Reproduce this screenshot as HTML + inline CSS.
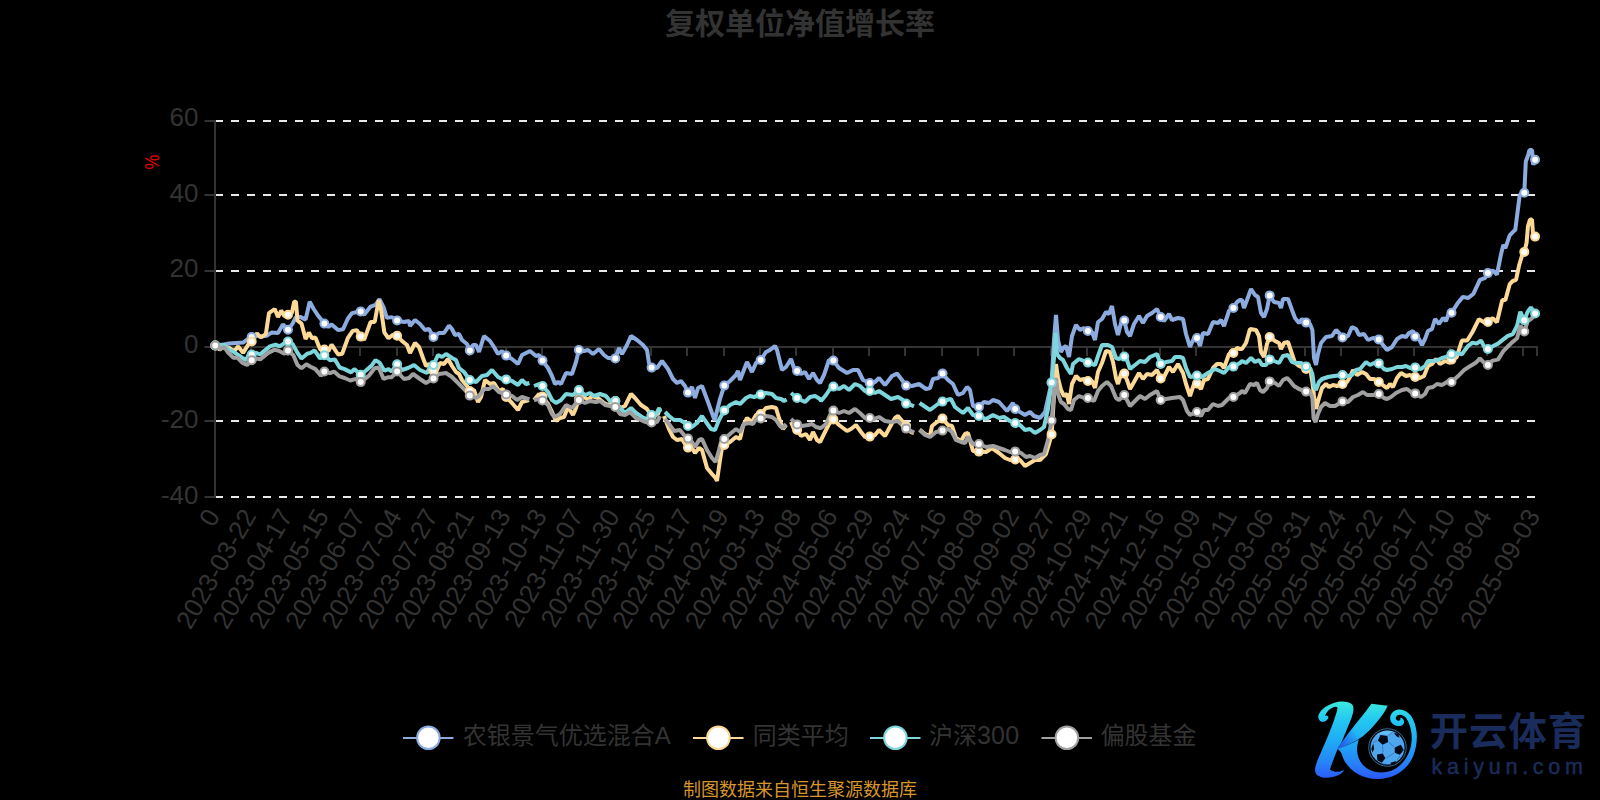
<!DOCTYPE html>
<html lang="zh-CN">
<head>
<meta charset="utf-8">
<title>复权单位净值增长率</title>
<style>
html,body{margin:0;padding:0;background:#000;}
body{width:1600px;height:800px;overflow:hidden;}
svg{display:block;}
svg text{font-family:"Liberation Sans","Noto Sans CJK SC",sans-serif;}
.ax{font-size:26px;fill:#333;}
.lg{font-size:24px;fill:#333;}
</style>
</head>
<body>
<svg width="1600" height="800" viewBox="0 0 1600 800">
<rect x="0" y="0" width="1600" height="800" fill="#000"/>
<text x="800" y="33.5" text-anchor="middle" font-size="30" font-weight="bold" fill="#333">复权单位净值增长率</text>
<g stroke="#e8e8e8" stroke-width="2" stroke-dasharray="8 8" fill="none">
<line x1="215.0" y1="121" x2="1537.0" y2="121"/>
<line x1="215.0" y1="195" x2="1537.0" y2="195"/>
<line x1="215.0" y1="271" x2="1537.0" y2="271"/>
<line x1="215.0" y1="421" x2="1537.0" y2="421"/>
<line x1="215.0" y1="497" x2="1537.0" y2="497"/>
</g>
<g stroke="#333" stroke-width="2" fill="none">
<line x1="215.0" y1="120" x2="215.0" y2="498"/>
<line x1="204.5" y1="121" x2="215.0" y2="121"/>
<line x1="204.5" y1="195" x2="215.0" y2="195"/>
<line x1="204.5" y1="271" x2="215.0" y2="271"/>
<line x1="204.5" y1="347" x2="215.0" y2="347"/>
<line x1="204.5" y1="421" x2="215.0" y2="421"/>
<line x1="204.5" y1="497" x2="215.0" y2="497"/>
<line x1="215.0" y1="347" x2="1538.0" y2="347"/>
<line x1="215.0" y1="347" x2="215.0" y2="356"/>
<line x1="251.0" y1="347" x2="251.0" y2="356"/>
<line x1="288.0" y1="347" x2="288.0" y2="356"/>
<line x1="324.0" y1="347" x2="324.0" y2="356"/>
<line x1="360.0" y1="347" x2="360.0" y2="356"/>
<line x1="397.0" y1="347" x2="397.0" y2="356"/>
<line x1="433.0" y1="347" x2="433.0" y2="356"/>
<line x1="469.0" y1="347" x2="469.0" y2="356"/>
<line x1="506.0" y1="347" x2="506.0" y2="356"/>
<line x1="542.0" y1="347" x2="542.0" y2="356"/>
<line x1="578.0" y1="347" x2="578.0" y2="356"/>
<line x1="615.0" y1="347" x2="615.0" y2="356"/>
<line x1="651.0" y1="347" x2="651.0" y2="356"/>
<line x1="687.0" y1="347" x2="687.0" y2="356"/>
<line x1="724.0" y1="347" x2="724.0" y2="356"/>
<line x1="760.0" y1="347" x2="760.0" y2="356"/>
<line x1="796.0" y1="347" x2="796.0" y2="356"/>
<line x1="833.0" y1="347" x2="833.0" y2="356"/>
<line x1="869.0" y1="347" x2="869.0" y2="356"/>
<line x1="905.0" y1="347" x2="905.0" y2="356"/>
<line x1="942.0" y1="347" x2="942.0" y2="356"/>
<line x1="978.0" y1="347" x2="978.0" y2="356"/>
<line x1="1014.0" y1="347" x2="1014.0" y2="356"/>
<line x1="1051.0" y1="347" x2="1051.0" y2="356"/>
<line x1="1087.0" y1="347" x2="1087.0" y2="356"/>
<line x1="1123.0" y1="347" x2="1123.0" y2="356"/>
<line x1="1160.0" y1="347" x2="1160.0" y2="356"/>
<line x1="1196.0" y1="347" x2="1196.0" y2="356"/>
<line x1="1232.0" y1="347" x2="1232.0" y2="356"/>
<line x1="1269.0" y1="347" x2="1269.0" y2="356"/>
<line x1="1305.0" y1="347" x2="1305.0" y2="356"/>
<line x1="1341.0" y1="347" x2="1341.0" y2="356"/>
<line x1="1378.0" y1="347" x2="1378.0" y2="356"/>
<line x1="1414.0" y1="347" x2="1414.0" y2="356"/>
<line x1="1450.0" y1="347" x2="1450.0" y2="356"/>
<line x1="1487.0" y1="347" x2="1487.0" y2="356"/>
<line x1="1523.0" y1="347" x2="1523.0" y2="356"/>
<line x1="1537.0" y1="347" x2="1537.0" y2="356"/>
</g>
<g class="ax" text-anchor="end">
<text x="198.5" y="126.4">60</text>
<text x="198.5" y="201.9">40</text>
<text x="198.5" y="277.4">20</text>
<text x="198.5" y="352.9">0</text>
<text x="198.5" y="428.4">-20</text>
<text x="198.5" y="504">-40</text>
</g>
<text transform="translate(159,162) rotate(-90) scale(0.84,1)" text-anchor="middle" font-size="20" fill="#e60000">%</text>
<g class="ax" text-anchor="end">
<text transform="translate(212.7,511) rotate(-60)" y="9.3">0</text>
<text transform="translate(249.0,511) rotate(-60)" y="9.3">2023-03-22</text>
<text transform="translate(285.4,511) rotate(-60)" y="9.3">2023-04-17</text>
<text transform="translate(321.7,511) rotate(-60)" y="9.3">2023-05-15</text>
<text transform="translate(358.0,511) rotate(-60)" y="9.3">2023-06-07</text>
<text transform="translate(394.4,511) rotate(-60)" y="9.3">2023-07-04</text>
<text transform="translate(430.7,511) rotate(-60)" y="9.3">2023-07-27</text>
<text transform="translate(467.0,511) rotate(-60)" y="9.3">2023-08-21</text>
<text transform="translate(503.4,511) rotate(-60)" y="9.3">2023-09-13</text>
<text transform="translate(539.7,511) rotate(-60)" y="9.3">2023-10-13</text>
<text transform="translate(576.0,511) rotate(-60)" y="9.3">2023-11-07</text>
<text transform="translate(612.4,511) rotate(-60)" y="9.3">2023-11-30</text>
<text transform="translate(648.7,511) rotate(-60)" y="9.3">2023-12-25</text>
<text transform="translate(685.0,511) rotate(-60)" y="9.3">2024-01-17</text>
<text transform="translate(721.4,511) rotate(-60)" y="9.3">2024-02-19</text>
<text transform="translate(757.7,511) rotate(-60)" y="9.3">2024-03-13</text>
<text transform="translate(794.0,511) rotate(-60)" y="9.3">2024-04-08</text>
<text transform="translate(830.4,511) rotate(-60)" y="9.3">2024-05-06</text>
<text transform="translate(866.7,511) rotate(-60)" y="9.3">2024-05-29</text>
<text transform="translate(903.0,511) rotate(-60)" y="9.3">2024-06-24</text>
<text transform="translate(939.4,511) rotate(-60)" y="9.3">2024-07-16</text>
<text transform="translate(975.7,511) rotate(-60)" y="9.3">2024-08-08</text>
<text transform="translate(1012.0,511) rotate(-60)" y="9.3">2024-09-02</text>
<text transform="translate(1048.4,511) rotate(-60)" y="9.3">2024-09-27</text>
<text transform="translate(1084.7,511) rotate(-60)" y="9.3">2024-10-29</text>
<text transform="translate(1121.0,511) rotate(-60)" y="9.3">2024-11-21</text>
<text transform="translate(1157.4,511) rotate(-60)" y="9.3">2024-12-16</text>
<text transform="translate(1193.7,511) rotate(-60)" y="9.3">2025-01-09</text>
<text transform="translate(1230.0,511) rotate(-60)" y="9.3">2025-02-11</text>
<text transform="translate(1266.4,511) rotate(-60)" y="9.3">2025-03-06</text>
<text transform="translate(1302.7,511) rotate(-60)" y="9.3">2025-03-31</text>
<text transform="translate(1339.0,511) rotate(-60)" y="9.3">2025-04-24</text>
<text transform="translate(1375.4,511) rotate(-60)" y="9.3">2025-05-22</text>
<text transform="translate(1411.7,511) rotate(-60)" y="9.3">2025-06-17</text>
<text transform="translate(1448.0,511) rotate(-60)" y="9.3">2025-07-10</text>
<text transform="translate(1484.4,511) rotate(-60)" y="9.3">2025-08-04</text>
<text transform="translate(1532.9,511) rotate(-60)" y="9.3">2025-09-03</text>
</g>
<g fill="none" stroke="#8CACDF" stroke-width="4" stroke-linejoin="bevel" stroke-linecap="butt">
<polyline points="215.3,345.5 224.4,344.4 229.2,343.4 243.1,342.6 247.9,339.0 251.7,336.9 256.1,335.3 260.1,336.6 266.6,335.8 271.5,332.6 278.0,333.0 282.9,324.4 288.0,329.8 292.6,323.6 295.9,317.1 300.7,317.1 305.6,319.6 309.7,301.7 313.7,309.0 318.6,316.3 324.4,323.6 328.4,326.9 331.6,324.4 338.1,330.1 343.0,329.3 347.8,318.7 351.9,313.1 356.0,312.2 360.7,311.4 364.1,314.7 370.6,306.6 375.5,304.9 379.5,299.2 383.6,307.4 386.8,317.9 391.7,317.1 397.1,320.4 404.0,322.0 409.0,321.0 410.0,326.0 415.0,320.0 420.0,324.0 425.0,330.0 429.0,329.0 433.5,337.0 439.0,333.0 444.0,333.0 449.0,325.6 452.0,329.0 455.0,335.0 459.0,334.0 462.0,340.0 467.0,344.0 469.8,350.4 473.0,345.0 476.0,345.0 479.0,352.0 484.0,336.0 490.0,341.0 494.0,347.0 498.0,354.0 502.0,351.0 506.2,355.6 512.0,359.0 518.0,364.0 522.0,355.0 530.0,351.0 536.0,356.0 539.0,355.0 542.5,360.6 548.0,368.0 552.0,376.0 555.0,384.0 558.0,382.0 561.0,384.0 566.0,373.0 572.0,374.0 576.0,362.0 578.9,350.0 584.0,351.0 588.0,350.0 593.0,354.0 599.0,349.0 604.0,355.0 608.0,358.0 609.0,358.0 615.3,358.4 619.0,348.0 622.0,354.0 627.0,345.0 631.0,336.0 637.0,340.0 643.0,345.0 647.0,350.0 649.0,363.0 651.6,367.6 657.0,368.0 662.0,361.0 668.0,369.0 673.0,379.0 677.0,383.0 681.0,381.0 685.0,386.0 688.0,392.6 692.0,387.0 695.0,398.0 698.0,388.0 702.0,386.0 708.0,402.0 714.6,420.4 720.0,399.0 724.3,385.6 730.0,381.0 736.0,375.0 738.0,371.0 740.0,380.0 747.0,362.0 752.0,372.0 756.0,363.0 760.7,360.0 766.0,352.0 770.0,350.0 775.0,346.0 777.0,350.0 782.0,370.0 786.0,367.0 791.0,359.0 794.0,368.0 797.1,371.0 801.0,374.0 805.0,372.0 809.0,379.0 813.0,373.0 817.0,380.0 820.0,383.0 824.0,375.0 829.0,360.0 833.4,360.6 839.0,368.0 847.0,373.0 853.0,370.0 858.0,370.0 863.0,380.0 869.8,383.0 875.0,382.0 879.0,378.0 885.0,385.0 892.0,376.0 897.0,373.6 902.0,380.0 906.1,385.6 912.0,386.0 919.0,384.0 926.0,389.0 930.0,388.0 933.0,379.0 938.0,378.0 942.5,373.6 948.0,380.0 953.0,384.0 958.0,395.0 963.0,393.0 967.0,387.0 970.0,390.0 973.0,406.0 978.9,407.0 984.0,402.0 989.0,403.0 993.0,400.0 999.0,402.0 1007.0,411.0 1013.0,403.0 1015.2,409.0 1020.0,412.0 1025.0,415.0 1030.0,412.0 1034.0,416.0 1040.0,418.0 1045.0,412.0 1049.0,394.0 1051.6,382.6 1054.0,340.0 1056.0,315.0 1058.0,340.0 1061.0,352.0 1063.0,348.0 1066.0,346.0 1069.0,357.0 1072.0,336.0 1076.0,325.0 1080.0,330.0 1084.0,328.0 1087.9,331.0 1092.0,332.0 1095.0,340.0 1098.0,322.0 1102.0,319.0 1106.0,312.0 1109.0,314.0 1112.0,306.0 1115.0,324.0 1118.0,335.0 1121.0,323.0 1124.3,320.6 1127.0,332.0 1130.0,336.0 1134.0,324.0 1139.0,316.0 1143.0,323.0 1147.0,316.0 1152.0,313.0 1157.0,309.0 1160.7,317.0 1164.0,321.0 1169.0,314.0 1172.0,320.0 1178.0,318.0 1183.0,319.0 1186.0,334.0 1190.0,347.0 1194.0,338.0 1197.0,338.0 1200.0,346.0 1203.0,333.0 1208.0,334.0 1213.0,322.0 1218.0,323.0 1221.0,320.0 1224.0,326.0 1229.0,311.0 1233.4,308.0 1237.0,302.0 1240.0,300.0 1242.0,300.0 1244.0,308.0 1247.0,300.0 1251.0,289.0 1255.0,295.0 1258.0,297.0 1261.0,313.0 1264.0,317.0 1267.0,309.0 1269.7,295.4 1274.0,302.0 1279.0,303.0 1281.0,308.0 1283.0,299.0 1288.0,299.0 1292.0,310.0 1295.0,318.0 1299.0,323.0 1302.0,319.0 1306.1,322.6 1310.0,324.0 1312.4,330.0 1314.0,358.0 1316.0,365.0 1318.0,354.0 1321.0,343.0 1326.0,337.0 1332.0,336.0 1336.0,330.0 1339.0,333.0 1342.5,337.4 1348.0,336.0 1352.0,327.0 1356.0,329.0 1359.0,335.0 1364.0,334.0 1368.0,340.0 1373.0,338.0 1378.8,339.4 1383.0,345.0 1387.0,350.0 1392.0,347.0 1397.0,339.0 1402.0,336.0 1406.0,337.0 1409.0,333.0 1413.0,331.0 1415.2,336.6 1419.0,339.0 1422.0,345.0 1425.0,339.0 1428.0,331.0 1432.0,329.0 1435.0,319.0 1439.0,324.0 1443.0,318.0 1446.0,321.0 1449.0,312.6 1450.0,311.0 1451.5,312.8 1457.6,303.3 1462.9,296.9 1468.2,298.0 1473.5,293.7 1479.9,279.9 1485.2,277.8 1487.9,273.1 1492.7,270.4 1496.9,274.6 1501.2,253.4 1503.3,244.9 1505.4,248.1 1509.7,235.3 1512.8,232.1 1515.3,229.8 1519.8,194.6 1524.3,192.8 1525.8,161.5 1528.3,154.8 1529.4,150.1 1532.1,150.1 1533.2,164.8 1535.1,159.7"/>
</g>
<g fill="none" stroke="#FDD998" stroke-width="4" stroke-linejoin="bevel" stroke-linecap="butt">
<polyline points="215.3,345.5 219.5,349.6 224.4,346.4 229.2,348.0 234.1,351.2 238.2,346.4 243.1,352.9 248.7,343.9 251.7,341.5 256.9,333.4 260.9,337.4 265.8,334.2 269.0,313.1 274.7,309.0 278.0,317.1 281.2,310.6 284.5,316.3 288.0,314.7 291.8,313.1 294.2,301.7 295.9,301.7 297.5,320.4 301.5,323.6 305.6,339.0 308.9,332.6 312.1,338.2 315.4,337.4 320.2,349.6 324.4,349.6 328.4,351.2 331.6,344.7 338.1,354.5 342.2,353.7 347.8,338.2 352.7,330.9 356.8,330.1 360.7,336.6 364.1,339.9 370.6,322.0 374.7,322.0 378.7,300.1 381.2,310.6 384.4,332.6 388.5,338.2 392.5,335.0 397.1,335.8 402.0,341.0 407.0,345.0 410.0,353.0 415.0,343.0 419.0,347.0 423.0,358.0 426.0,366.0 429.0,364.0 433.5,371.0 437.0,370.0 440.0,363.0 444.0,364.0 448.0,359.0 452.0,366.0 456.0,372.0 459.0,374.0 462.0,380.0 467.0,386.0 469.8,391.0 474.0,390.0 478.0,402.0 481.0,397.0 485.0,380.0 490.0,384.0 494.0,383.0 499.0,391.0 503.0,389.0 506.2,397.0 512.0,403.0 518.0,410.0 522.0,402.0 529.0,400.0"/>
<polyline points="534.0,400.0 539.0,394.0 542.5,396.6 548.0,404.0 552.0,412.0 556.0,421.0 560.0,418.0 564.0,417.0 568.0,407.0 573.0,415.0 576.0,408.0 578.9,399.0 583.0,396.0 588.0,400.0 592.0,396.0 598.0,398.0 604.0,403.0 608.0,405.0 615.3,401.0 620.0,408.0 625.0,406.0 631.0,394.0 635.0,398.0 641.0,405.0 647.0,409.0 651.6,416.0 658.0,414.0 660.0,408.0"/>
<polyline points="664.0,416.0 669.0,429.0 673.0,437.0 677.0,440.0 682.0,439.0 685.0,444.0 688.0,447.6 692.0,448.0 695.0,453.0 699.0,448.0 702.0,450.0 707.0,468.0 712.0,474.0 715.6,478.0 717.0,481.0 720.0,460.0 722.0,448.0 724.3,445.0 730.0,442.0 736.0,437.0 740.0,439.0 743.0,426.0 747.0,418.0 752.0,422.0 756.0,415.0 760.7,414.0 766.0,408.0 772.0,407.0 776.0,408.0 779.0,418.0 783.0,429.0 786.0,425.0"/>
<polyline points="791.0,422.0 794.0,429.0 797.1,430.0 801.0,436.0 806.0,434.0 810.0,440.0 813.0,432.0 817.0,440.0 820.0,442.0 824.0,434.0 829.0,424.0 833.4,419.4 839.0,425.0 847.0,431.0 851.0,429.0 856.0,425.0 861.0,432.0 865.0,437.0 869.8,436.6 875.0,435.0 879.0,430.0 885.0,436.0 891.0,425.0 895.0,418.0 898.0,416.0 903.0,422.0 906.1,426.0 911.0,432.0 914.0,433.0"/>
<polyline points="919.6,429.6 925.0,434.0 930.0,436.0 932.0,426.0 937.0,422.0 942.5,418.6 948.0,425.0 952.0,426.0 956.0,438.0 961.0,441.0 965.0,434.0 968.0,433.0 971.0,444.0 973.0,451.0 978.9,451.6 986.0,452.0 992.0,448.0 999.0,453.0 1005.0,458.0 1010.0,460.0 1015.2,459.4 1020.0,460.0 1025.0,466.0 1030.0,463.0 1035.0,460.0 1040.0,460.0 1046.0,454.0 1049.0,444.0 1051.6,434.4 1054.0,396.0 1056.0,364.0 1058.0,378.0 1061.0,390.0 1064.0,396.0 1067.0,394.0 1069.0,404.0 1072.0,384.0 1076.0,376.0 1080.0,380.0 1084.0,379.0 1087.9,381.0 1092.0,381.0 1095.0,388.0 1098.0,372.0 1102.0,363.0 1106.0,351.0 1110.0,352.0 1113.0,362.0 1116.0,378.0 1118.0,384.0 1121.0,374.0 1124.3,373.6 1127.0,380.0 1130.0,389.0 1134.0,382.0 1139.0,373.0 1143.0,379.0 1147.0,374.0 1152.0,375.0 1157.0,370.0 1160.7,378.4 1164.0,377.0 1169.0,367.0 1173.0,372.0 1178.0,364.0 1183.0,373.0 1186.0,384.0 1190.0,396.0 1194.0,384.0 1197.0,383.6 1201.0,389.0 1204.0,380.0 1208.0,379.0 1213.0,368.0 1217.0,364.0 1221.0,364.0 1224.0,368.0 1229.0,354.0 1233.4,353.0 1237.0,348.0 1240.0,349.0 1242.0,349.0 1246.0,343.0 1250.0,329.0 1256.0,330.0 1259.0,336.0 1261.0,352.0 1264.0,357.0 1267.0,344.0 1269.7,337.0 1275.0,341.0 1279.0,343.0 1281.0,349.0 1284.0,343.0 1288.0,342.0 1292.0,354.0 1295.0,363.0 1299.0,366.0 1306.1,369.0 1310.0,368.0 1312.4,382.0 1314.0,396.0 1316.0,409.0 1319.0,398.0 1322.0,388.0 1326.0,384.0 1329.0,387.0 1333.0,385.0 1337.0,386.0 1342.5,384.0 1347.0,382.0 1350.0,377.0 1353.0,370.0 1357.0,375.0 1362.0,372.0 1366.0,374.0 1370.0,379.0 1374.0,379.0 1378.8,382.0 1384.0,386.0 1387.0,388.0 1390.0,384.0 1393.0,387.0 1397.0,378.0 1401.0,373.0 1406.0,376.0 1410.0,375.0 1415.2,377.0 1420.0,378.0 1424.0,376.0 1428.0,366.0 1432.0,364.0 1436.0,359.0 1440.0,364.0 1445.0,361.0 1450.0,363.0 1451.5,359.6 1456.6,357.4 1461.9,340.5 1467.2,340.5 1472.5,332.0 1478.9,319.2 1484.2,322.4 1487.9,322.0 1492.7,318.1 1496.9,322.4 1502.2,300.1 1505.4,300.1 1509.7,284.2 1512.8,281.0 1516.0,279.9 1519.2,265.0 1522.4,254.4 1524.3,251.9 1526.6,242.7 1528.0,226.1 1530.0,219.6 1532.0,219.6 1533.3,237.8 1535.1,236.6"/>
</g>
<g fill="none" stroke="#7DD6DB" stroke-width="4" stroke-linejoin="bevel" stroke-linecap="butt">
<polyline points="215.3,345.5 224.4,344.7 228.4,349.6 232.5,351.2 237.4,354.5 242.2,357.7 246.3,360.2 248.7,354.5 251.7,354.5 256.1,352.9 260.1,354.5 265.0,350.4 269.9,346.4 275.5,344.7 279.6,346.4 284.5,343.1 288.0,341.5 292.6,343.9 297.5,352.9 301.5,358.5 307.2,353.7 310.5,352.9 314.5,350.4 320.2,358.5 324.4,355.3 330.0,360.2 334.8,359.4 339.7,367.5 344.6,369.1 351.1,372.4 354.3,369.1 360.7,374.8 365.7,370.7 371.4,365.9 375.5,360.2 379.5,362.6 384.4,370.7 388.5,369.1 391.7,371.5 397.1,364.2 402.0,370.0 408.0,368.0 414.0,365.0 420.0,370.0 427.0,373.0 430.0,367.0 433.5,365.0 438.0,355.0 442.0,357.0 446.0,354.0 452.0,358.0 456.0,360.0 459.0,368.0 464.0,372.0 469.8,380.0 476.0,382.0 482.0,376.0 487.0,375.0 492.0,370.0 498.0,377.0 502.0,379.0 506.2,379.4 512.0,381.0 518.0,385.0 522.0,380.0 526.0,384.0 529.4,383.0"/>
<polyline points="534.0,386.0 539.0,384.0 542.5,386.0 548.0,392.0 552.0,400.0 556.0,403.0 561.0,400.0 566.0,394.0 573.0,395.0 578.9,390.0 585.0,395.0 590.0,393.0 594.0,396.0 600.0,394.0 606.0,396.0 610.0,401.0 615.3,401.0 620.0,408.0 625.0,413.0 631.0,408.0 636.0,413.0 642.0,417.0 647.0,419.0 651.6,415.0 656.0,415.0 659.0,408.0 660.4,412.0"/>
<polyline points="665.0,412.0 669.0,416.0 674.0,420.0 680.0,420.0 685.0,423.0 688.0,426.0 692.0,427.0 697.0,423.0 702.0,416.0 706.0,422.0 711.0,429.0 715.0,430.0 719.0,420.0 724.3,410.4 730.0,405.0 736.0,402.0 740.0,404.0 746.0,398.0 750.0,396.0 754.0,397.0 760.7,394.6 766.0,393.0 772.0,394.0 776.0,398.0 781.0,399.0 784.0,401.0 786.6,399.6"/>
<polyline points="791.0,393.0 797.1,398.0 801.0,400.0 805.0,402.0 810.0,397.0 815.0,396.0 820.0,399.0 821.0,401.0 826.0,395.0 830.0,389.0 833.4,386.6 839.0,389.0 844.0,386.0 849.0,390.0 855.0,384.0 860.0,386.0 865.0,391.0 869.8,391.0 875.0,393.0 879.0,391.0 885.0,395.0 891.0,399.0 898.0,397.0 903.0,400.0 906.1,403.6 911.0,405.0 914.0,406.4"/>
<polyline points="919.6,403.0 924.0,406.0 930.0,410.0 938.0,404.0 942.5,401.6 947.0,400.0 951.0,399.0 955.0,407.0 959.0,410.0 963.0,413.0 968.0,408.0 973.0,415.0 978.9,416.0 986.0,419.0 993.0,415.0 999.0,418.0 1004.0,417.0 1010.0,421.0 1015.2,423.0 1020.0,425.0 1025.0,430.0 1030.0,429.0 1035.0,433.0 1040.0,430.0 1044.0,427.0 1048.0,409.0 1051.6,382.6 1054.0,358.0 1055.6,333.0 1057.0,354.0 1060.0,358.0 1063.0,360.0 1067.0,368.0 1071.0,374.0 1073.0,364.0 1079.0,359.0 1084.0,361.0 1087.9,362.6 1095.0,365.0 1098.0,356.0 1102.0,345.0 1108.0,345.0 1112.0,347.0 1116.0,358.0 1119.0,359.0 1124.3,356.6 1127.0,360.0 1130.0,369.0 1135.0,365.0 1140.0,361.0 1145.0,362.0 1150.0,357.0 1157.0,354.0 1160.7,364.0 1166.0,362.0 1172.0,361.0 1175.0,357.0 1180.0,357.0 1183.0,358.0 1186.0,368.0 1190.0,377.0 1197.0,375.6 1202.0,377.0 1208.0,373.0 1215.0,369.0 1220.0,371.0 1224.0,373.0 1229.0,367.0 1233.4,366.6 1240.0,363.0 1242.0,361.0 1246.0,363.0 1251.0,358.0 1255.0,362.0 1259.0,360.0 1262.0,365.0 1266.0,365.0 1269.7,359.4 1274.0,361.0 1279.0,363.0 1283.0,356.0 1288.0,355.0 1292.0,362.0 1296.0,363.0 1301.0,363.0 1306.1,366.4 1310.0,368.0 1312.4,374.0 1314.0,386.0 1316.0,390.0 1319.0,382.0 1322.0,379.0 1328.0,377.0 1334.0,376.0 1342.5,375.0 1348.0,376.0 1352.0,375.0 1356.0,370.0 1360.0,369.0 1366.0,362.0 1370.0,365.0 1374.0,363.0 1378.8,363.4 1384.0,369.0 1387.0,370.0 1392.0,369.0 1397.0,367.0 1402.0,367.0 1406.0,366.0 1410.0,368.0 1415.2,367.4 1421.0,369.0 1425.0,366.0 1428.0,361.0 1433.0,361.0 1438.0,360.0 1442.0,358.0 1446.0,357.0 1450.0,354.0 1451.5,354.3 1456.6,353.2 1461.9,354.3 1468.2,345.8 1472.5,342.6 1476.7,343.6 1481.0,340.5 1484.2,346.8 1487.9,348.9 1493.7,345.8 1498.0,343.6 1503.3,339.4 1507.5,336.2 1512.8,334.1 1517.1,325.6 1520.3,311.8 1524.3,320.3 1527.7,311.8 1530.9,307.5 1535.1,313.5"/>
</g>
<g fill="none" stroke="#A0A0A0" stroke-width="4" stroke-linejoin="bevel" stroke-linecap="butt">
<polyline points="215.3,345.5 220.3,348.8 224.4,347.2 227.6,352.0 233.3,357.7 237.4,357.7 242.2,362.6 247.1,365.0 251.7,360.2 256.9,358.5 260.1,359.4 268.2,352.9 274.7,349.6 279.6,351.2 284.5,353.7 288.0,350.4 293.4,355.3 297.5,365.0 301.5,368.3 306.4,364.2 310.5,366.7 315.4,369.1 321.0,375.6 324.4,371.5 330.0,373.2 334.0,371.5 339.7,376.4 344.6,378.0 350.3,380.5 356.0,378.9 360.7,382.1 369.0,375.6 374.7,368.3 378.7,367.5 383.6,378.9 388.5,377.2 391.7,377.2 397.1,371.5 404.0,379.0 409.0,378.0 413.0,374.0 420.0,379.0 426.0,383.0 433.5,378.4 439.0,374.0 446.0,373.0 452.0,377.0 458.0,383.0 464.0,389.0 469.8,395.6 476.0,398.0 479.0,396.0 484.0,389.0 489.0,389.0 493.0,386.0 499.0,392.0 506.2,394.4 512.0,396.0 517.0,400.0 522.0,397.0 529.4,399.4"/>
<polyline points="534.0,400.0 539.0,399.0 542.5,400.4 548.0,405.0 552.0,414.0 555.0,417.0 560.0,414.0 566.0,405.0 572.0,408.0 578.9,400.0 585.0,403.0 590.0,401.0 596.0,402.0 600.0,401.0 605.0,405.0 610.0,406.0 615.3,407.0 620.0,414.0 625.0,415.0 630.0,412.0 636.0,418.0 643.0,421.0 649.0,423.0 651.6,422.4 657.0,422.0 660.0,416.0"/>
<polyline points="665.0,419.0 669.0,424.0 674.0,431.0 680.0,430.0 684.0,435.0 688.0,438.6 692.0,442.0 695.0,447.0 699.0,440.0 702.0,439.0 707.0,450.0 712.0,458.0 715.6,462.0 719.0,450.0 721.0,442.0 724.3,439.0 730.0,434.0 736.0,429.0 740.0,432.0 744.0,424.0 749.0,423.0 753.0,424.0 756.0,419.0 760.7,418.4 766.0,416.0 772.0,417.0 776.0,420.0 780.0,426.0 783.0,428.0 786.0,424.0"/>
<polyline points="791.0,419.0 797.1,424.4 802.0,426.0 808.0,425.0 812.0,424.0 816.0,427.0 820.0,428.0 821.0,428.0 826.0,424.0 830.0,415.0 833.4,410.6 839.0,413.0 844.0,411.0 849.0,413.0 855.0,409.0 860.0,413.0 865.0,418.0 869.8,418.0 874.0,419.0 879.0,417.0 885.0,421.0 891.0,422.0 898.0,421.0 903.0,426.0 906.1,428.6 911.0,431.0 914.0,432.4"/>
<polyline points="919.6,430.0 925.0,435.0 930.0,437.0 936.0,432.0 942.5,430.6 948.0,429.0 952.0,432.0 956.0,440.0 961.0,442.0 965.0,443.0 968.0,437.0 973.0,444.0 978.9,444.0 986.0,447.0 993.0,446.0 999.0,448.0 1005.0,450.0 1010.0,452.0 1015.2,451.4 1021.0,453.0 1026.0,457.0 1030.0,456.0 1035.0,458.0 1040.0,455.0 1044.0,454.0 1048.0,440.0 1051.6,420.6 1054.0,394.0 1056.0,378.0 1058.0,394.0 1061.0,402.0 1064.0,404.0 1068.0,409.0 1071.0,410.0 1074.0,400.0 1079.0,396.0 1084.0,398.0 1087.9,398.0 1094.0,401.0 1098.0,391.0 1102.0,386.0 1107.0,382.0 1111.0,386.0 1116.0,398.0 1119.0,400.0 1124.3,395.0 1128.0,402.0 1130.0,406.0 1135.0,401.0 1140.0,396.0 1145.0,399.0 1150.0,395.0 1157.0,391.0 1160.7,400.0 1166.0,399.0 1172.0,398.0 1180.0,397.0 1183.0,400.0 1187.0,411.0 1190.0,415.0 1197.0,412.0 1201.0,416.0 1204.0,410.0 1208.0,410.0 1213.0,404.0 1218.0,406.0 1222.0,405.0 1225.0,402.0 1229.0,398.0 1233.4,397.0 1240.0,393.0 1242.0,391.0 1245.0,393.0 1250.0,384.0 1254.0,385.0 1257.0,383.0 1260.0,390.0 1263.0,392.0 1267.0,388.0 1269.7,381.4 1275.0,383.0 1279.0,386.0 1283.0,380.0 1287.0,378.0 1290.0,381.0 1294.0,386.0 1299.0,389.0 1306.1,391.6 1310.0,391.0 1312.4,398.0 1313.6,418.0 1315.6,422.0 1318.0,414.0 1321.0,407.0 1325.0,403.0 1330.0,406.0 1335.0,406.0 1342.5,401.4 1348.0,402.0 1353.0,397.0 1358.0,395.0 1363.0,392.0 1367.0,395.0 1373.0,395.0 1378.8,394.0 1384.0,398.0 1387.0,399.0 1391.0,397.0 1396.0,393.0 1402.0,390.0 1407.0,389.0 1411.0,392.0 1415.2,393.4 1421.0,397.0 1425.0,394.0 1428.0,388.0 1433.0,387.0 1437.0,384.0 1442.0,385.0 1447.0,382.0 1450.0,381.0 1451.5,381.9 1457.6,376.6 1464.0,370.2 1470.4,365.9 1475.7,362.8 1479.9,358.5 1484.2,362.8 1487.9,364.9 1492.7,360.6 1498.0,359.6 1503.3,351.1 1507.5,346.8 1511.8,342.6 1517.1,338.3 1520.3,325.6 1524.3,331.5 1527.7,321.3 1532.0,318.1 1535.1,313.9"/>
</g>
<g fill="#fff" stroke="#8CACDF" stroke-width="2">
<circle cx="215.3" cy="345.5" r="4"/>
<circle cx="251.7" cy="336.9" r="4"/>
<circle cx="288.0" cy="329.8" r="4"/>
<circle cx="324.4" cy="323.6" r="4"/>
<circle cx="360.7" cy="311.4" r="4"/>
<circle cx="397.1" cy="320.4" r="4"/>
<circle cx="433.5" cy="337.0" r="4"/>
<circle cx="469.8" cy="350.4" r="4"/>
<circle cx="506.2" cy="355.6" r="4"/>
<circle cx="542.5" cy="360.6" r="4"/>
<circle cx="578.9" cy="350.0" r="4"/>
<circle cx="615.3" cy="358.4" r="4"/>
<circle cx="651.6" cy="367.6" r="4"/>
<circle cx="688.0" cy="392.6" r="4"/>
<circle cx="724.3" cy="385.6" r="4"/>
<circle cx="760.7" cy="360.0" r="4"/>
<circle cx="797.1" cy="371.0" r="4"/>
<circle cx="833.4" cy="360.6" r="4"/>
<circle cx="869.8" cy="383.0" r="4"/>
<circle cx="906.1" cy="385.6" r="4"/>
<circle cx="942.5" cy="373.6" r="4"/>
<circle cx="978.9" cy="407.0" r="4"/>
<circle cx="1015.2" cy="409.0" r="4"/>
<circle cx="1051.6" cy="382.6" r="4"/>
<circle cx="1087.9" cy="331.0" r="4"/>
<circle cx="1124.3" cy="320.6" r="4"/>
<circle cx="1160.7" cy="317.0" r="4"/>
<circle cx="1197.0" cy="338.0" r="4"/>
<circle cx="1233.4" cy="308.0" r="4"/>
<circle cx="1269.7" cy="295.4" r="4"/>
<circle cx="1306.1" cy="322.6" r="4"/>
<circle cx="1342.5" cy="337.4" r="4"/>
<circle cx="1378.8" cy="339.4" r="4"/>
<circle cx="1415.2" cy="336.6" r="4"/>
<circle cx="1451.5" cy="312.8" r="4"/>
<circle cx="1487.9" cy="273.1" r="4"/>
<circle cx="1524.3" cy="192.8" r="4"/>
<circle cx="1535.1" cy="159.7" r="4"/>
</g>
<g fill="#fff" stroke="#FDD998" stroke-width="2">
<circle cx="215.3" cy="345.5" r="4"/>
<circle cx="251.7" cy="341.5" r="4"/>
<circle cx="288.0" cy="314.7" r="4"/>
<circle cx="324.4" cy="349.6" r="4"/>
<circle cx="360.7" cy="336.6" r="4"/>
<circle cx="397.1" cy="335.8" r="4"/>
<circle cx="433.5" cy="371.0" r="4"/>
<circle cx="469.8" cy="391.0" r="4"/>
<circle cx="506.2" cy="397.0" r="4"/>
<circle cx="542.5" cy="396.6" r="4"/>
<circle cx="578.9" cy="399.0" r="4"/>
<circle cx="615.3" cy="401.0" r="4"/>
<circle cx="651.6" cy="416.0" r="4"/>
<circle cx="688.0" cy="447.6" r="4"/>
<circle cx="724.3" cy="445.0" r="4"/>
<circle cx="760.7" cy="414.0" r="4"/>
<circle cx="797.1" cy="430.0" r="4"/>
<circle cx="833.4" cy="419.4" r="4"/>
<circle cx="869.8" cy="436.6" r="4"/>
<circle cx="906.1" cy="426.0" r="4"/>
<circle cx="942.5" cy="418.6" r="4"/>
<circle cx="978.9" cy="451.6" r="4"/>
<circle cx="1015.2" cy="459.4" r="4"/>
<circle cx="1051.6" cy="434.4" r="4"/>
<circle cx="1087.9" cy="381.0" r="4"/>
<circle cx="1124.3" cy="373.6" r="4"/>
<circle cx="1160.7" cy="378.4" r="4"/>
<circle cx="1197.0" cy="383.6" r="4"/>
<circle cx="1233.4" cy="353.0" r="4"/>
<circle cx="1269.7" cy="337.0" r="4"/>
<circle cx="1306.1" cy="369.0" r="4"/>
<circle cx="1342.5" cy="384.0" r="4"/>
<circle cx="1378.8" cy="382.0" r="4"/>
<circle cx="1415.2" cy="377.0" r="4"/>
<circle cx="1451.5" cy="359.6" r="4"/>
<circle cx="1487.9" cy="322.0" r="4"/>
<circle cx="1524.3" cy="251.9" r="4"/>
<circle cx="1535.1" cy="236.6" r="4"/>
</g>
<g fill="#fff" stroke="#7DD6DB" stroke-width="2">
<circle cx="215.3" cy="345.5" r="4"/>
<circle cx="251.7" cy="354.5" r="4"/>
<circle cx="288.0" cy="341.5" r="4"/>
<circle cx="324.4" cy="355.3" r="4"/>
<circle cx="360.7" cy="374.8" r="4"/>
<circle cx="397.1" cy="364.2" r="4"/>
<circle cx="433.5" cy="365.0" r="4"/>
<circle cx="469.8" cy="380.0" r="4"/>
<circle cx="506.2" cy="379.4" r="4"/>
<circle cx="542.5" cy="386.0" r="4"/>
<circle cx="578.9" cy="390.0" r="4"/>
<circle cx="615.3" cy="401.0" r="4"/>
<circle cx="651.6" cy="415.0" r="4"/>
<circle cx="688.0" cy="426.0" r="4"/>
<circle cx="724.3" cy="410.4" r="4"/>
<circle cx="760.7" cy="394.6" r="4"/>
<circle cx="797.1" cy="398.0" r="4"/>
<circle cx="833.4" cy="386.6" r="4"/>
<circle cx="869.8" cy="391.0" r="4"/>
<circle cx="906.1" cy="403.6" r="4"/>
<circle cx="942.5" cy="401.6" r="4"/>
<circle cx="978.9" cy="416.0" r="4"/>
<circle cx="1015.2" cy="423.0" r="4"/>
<circle cx="1051.6" cy="382.6" r="4"/>
<circle cx="1087.9" cy="362.6" r="4"/>
<circle cx="1124.3" cy="356.6" r="4"/>
<circle cx="1160.7" cy="364.0" r="4"/>
<circle cx="1197.0" cy="375.6" r="4"/>
<circle cx="1233.4" cy="366.6" r="4"/>
<circle cx="1269.7" cy="359.4" r="4"/>
<circle cx="1306.1" cy="366.4" r="4"/>
<circle cx="1342.5" cy="375.0" r="4"/>
<circle cx="1378.8" cy="363.4" r="4"/>
<circle cx="1415.2" cy="367.4" r="4"/>
<circle cx="1451.5" cy="354.3" r="4"/>
<circle cx="1487.9" cy="348.9" r="4"/>
<circle cx="1524.3" cy="320.3" r="4"/>
<circle cx="1535.1" cy="313.5" r="4"/>
</g>
<g fill="#fff" stroke="#A0A0A0" stroke-width="2">
<circle cx="215.3" cy="345.5" r="4"/>
<circle cx="251.7" cy="360.2" r="4"/>
<circle cx="288.0" cy="350.4" r="4"/>
<circle cx="324.4" cy="371.5" r="4"/>
<circle cx="360.7" cy="382.1" r="4"/>
<circle cx="397.1" cy="371.5" r="4"/>
<circle cx="433.5" cy="378.4" r="4"/>
<circle cx="469.8" cy="395.6" r="4"/>
<circle cx="506.2" cy="394.4" r="4"/>
<circle cx="542.5" cy="400.4" r="4"/>
<circle cx="578.9" cy="400.0" r="4"/>
<circle cx="615.3" cy="407.0" r="4"/>
<circle cx="651.6" cy="422.4" r="4"/>
<circle cx="688.0" cy="438.6" r="4"/>
<circle cx="724.3" cy="439.0" r="4"/>
<circle cx="760.7" cy="418.4" r="4"/>
<circle cx="797.1" cy="424.4" r="4"/>
<circle cx="833.4" cy="410.6" r="4"/>
<circle cx="869.8" cy="418.0" r="4"/>
<circle cx="906.1" cy="428.6" r="4"/>
<circle cx="942.5" cy="430.6" r="4"/>
<circle cx="978.9" cy="444.0" r="4"/>
<circle cx="1015.2" cy="451.4" r="4"/>
<circle cx="1051.6" cy="420.6" r="4"/>
<circle cx="1087.9" cy="398.0" r="4"/>
<circle cx="1124.3" cy="395.0" r="4"/>
<circle cx="1160.7" cy="400.0" r="4"/>
<circle cx="1197.0" cy="412.0" r="4"/>
<circle cx="1233.4" cy="397.0" r="4"/>
<circle cx="1269.7" cy="381.4" r="4"/>
<circle cx="1306.1" cy="391.6" r="4"/>
<circle cx="1342.5" cy="401.4" r="4"/>
<circle cx="1378.8" cy="394.0" r="4"/>
<circle cx="1415.2" cy="393.4" r="4"/>
<circle cx="1451.5" cy="381.9" r="4"/>
<circle cx="1487.9" cy="364.9" r="4"/>
<circle cx="1524.3" cy="331.5" r="4"/>
</g>
<line x1="403" y1="738" x2="453.5" y2="738" stroke="#8CACDF" stroke-width="2"/>
<circle cx="428.4" cy="737.8" r="11.3" fill="#fff" stroke="#8CACDF" stroke-width="2"/>
<text class="lg" x="462.75" y="744.2">农银景气优选混合A</text>
<line x1="693" y1="738" x2="743.5" y2="738" stroke="#FDD998" stroke-width="2"/>
<circle cx="718.4" cy="737.8" r="11.3" fill="#fff" stroke="#FDD998" stroke-width="2"/>
<text class="lg" x="752.75" y="744.2">同类平均</text>
<line x1="870" y1="738" x2="920.5" y2="738" stroke="#7DD6DB" stroke-width="2"/>
<circle cx="895.4" cy="737.8" r="11.3" fill="#fff" stroke="#7DD6DB" stroke-width="2"/>
<text class="lg" x="929" y="744.2">沪深<tspan font-size="25" letter-spacing="0.2">300</tspan></text>
<line x1="1041.5" y1="738" x2="1092.0" y2="738" stroke="#A0A0A0" stroke-width="2"/>
<circle cx="1066.9" cy="737.8" r="11.3" fill="#fff" stroke="#A0A0A0" stroke-width="2"/>
<text class="lg" x="1100.5" y="744.2">偏股基金</text>
<text x="800" y="796" text-anchor="middle" font-size="18" fill="#d6962b">制图数据来自恒生聚源数据库</text>
<defs>
<linearGradient id="kg" gradientUnits="userSpaceOnUse" x1="0" y1="92" x2="0" y2="712">
<stop offset="0" stop-color="#3CEADB"/>
<stop offset="0.22" stop-color="#24CAF1"/>
<stop offset="0.5" stop-color="#1EACF5"/>
<stop offset="0.8" stop-color="#2682F7"/>
<stop offset="1" stop-color="#2B58F8"/>
</linearGradient>
<linearGradient id="kf" gradientUnits="userSpaceOnUse" x1="470" y1="380" x2="310" y2="465">
<stop offset="0" stop-color="#2A4CE6" stop-opacity="0"/>
<stop offset="1" stop-color="#2A4CE6" stop-opacity="0.95"/>
</linearGradient>
</defs>
<g transform="translate(1300,690) scale(0.125)">
<path fill="url(#kg)" d="M224.0,211.0 C226.1,214.8 228.8,220.3 225.8,226.3 C222.8,232.3 214.6,242.3 206.0,247.0 C197.4,251.7 183.5,256.0 174.5,254.2 C165.5,252.4 156.7,244.2 152.0,236.2 C147.3,228.2 144.4,217.4 146.6,206.5 C148.9,195.6 155.6,182.5 165.5,170.5 C175.4,158.5 190.2,145.0 206.0,134.5 C221.8,124.0 240.5,114.5 260.0,107.5 C279.5,100.5 303.5,94.2 323.0,92.2 C342.5,90.2 361.2,91.8 377.0,95.8 C392.8,99.9 409.1,106.3 417.5,116.5 C425.9,126.7 428.2,139.8 427.4,157.0 C426.7,174.2 421.4,194.5 413.0,220.0 C404.6,245.5 390.5,277.0 377.0,310.0 C363.5,343.0 344.0,392.5 332.0,418.0 C320.0,443.5 315.5,440.5 305.0,463.0 C294.5,485.5 278.8,527.5 269.0,553.0 C259.2,578.5 251.0,601.8 246.5,616.0 C242.0,630.2 236.8,632.2 242.0,638.5 C247.2,644.8 264.5,651.6 278.0,653.8 C291.5,656.1 310.7,654.1 323.0,652.0 C335.3,649.9 351.8,637.9 351.8,641.2 C351.8,644.5 336.8,663.1 323.0,671.8 C309.2,680.5 290.0,688.3 269.0,693.4 C248.0,698.5 218.0,703.9 197.0,702.4 C176.0,700.9 155.8,694.3 143.0,684.4 C130.2,674.5 122.0,660.4 120.5,643.0 C119.0,625.6 124.2,608.5 134.0,580.0 C143.8,551.5 162.5,511.0 179.0,472.0 C195.5,433.0 217.2,385.0 233.0,346.0 C248.8,307.0 263.0,268.0 273.5,238.0 C284.0,208.0 291.8,182.2 296.0,166.0 C300.2,149.8 301.0,146.2 298.7,140.8 C296.5,135.4 291.9,131.8 282.5,133.6 C273.1,135.4 253.7,143.5 242.0,151.6 C230.3,159.7 218.9,172.9 212.3,182.2 C205.7,191.5 202.2,203.8 202.4,207.4 C202.6,211.0 209.6,203.2 213.2,203.8 C216.8,204.4 221.9,207.2 224.0,211.0 Z"/>
<path fill="url(#kg)" d="M572,110 L702,126 C660,215 575,310 503,370 C440,415 370,445 300,470 C320,438 350,400 377,360 C430,290 510,195 572,110 Z"/>
<path fill="url(#kf)" d="M572,110 L702,126 C660,215 575,310 503,370 C440,415 370,445 300,470 C320,438 350,400 377,360 C430,290 510,195 572,110 Z"/>
<path fill="url(#kg)" d="M300,470 C350,452 420,425 472,395 C452,440 452,500 470,545 C500,620 570,660 650,660 C760,660 850,580 882,470 C905,390 895,290 850,225 C830,198 795,190 775,205 C760,220 765,240 785,245 C800,247 808,235 800,222 C825,222 840,245 830,268 C815,295 770,295 740,270 C712,245 715,195 750,170 C800,138 870,165 905,235 C945,320 945,430 905,530 C860,640 750,712 620,712 C500,712 400,650 355,565 C335,530 340,500 300,470 Z"/>
<circle cx="700" cy="460" r="150" fill="none" stroke="#4FB0F2" stroke-width="5"/>
<circle cx="700" cy="460" r="136" fill="#4EA6EE"/>
<path fill="#63BDF6" d="M600,370 A136,136 0 0 1 800,370 L745,335 L705,362 L640,352 Z"/>
<g fill="#020814">
<polygon points="644,359 699,368 705,415 661,437 623,404"/>
<polygon points="758,459 807,438 830,480 798,518 758,501"/>
<polygon points="616,515 662,507 683,545 654,582 618,561"/>
<polygon points="750,339 788,352 796,381 771,370"/>
<polygon points="570,469 585,427 593,469 580,499"/>
<polygon points="724,581 770,568 758,591 728,596"/>
</g>
<g fill="none" stroke="#1C4E9C" stroke-width="4">
<path d="M660,445 L665,500 M712,418 L752,455 M752,505 L690,545 M705,362 L745,335 M615,405 L585,420 M800,525 L775,565 M655,590 L725,598 M838,480 L838,440"/>
</g>
</g>
<text x="1429.5" y="744.8" font-size="38.5" font-weight="bold" fill="#1A2C5B" letter-spacing="0.9">开云体育</text>
<text x="1431.5" y="773.7" font-size="21.5" fill="#1A2C5B" stroke="#1A2C5B" stroke-width="0.5" letter-spacing="4.75">kaiyun.com</text>
</svg>
</body>
</html>
